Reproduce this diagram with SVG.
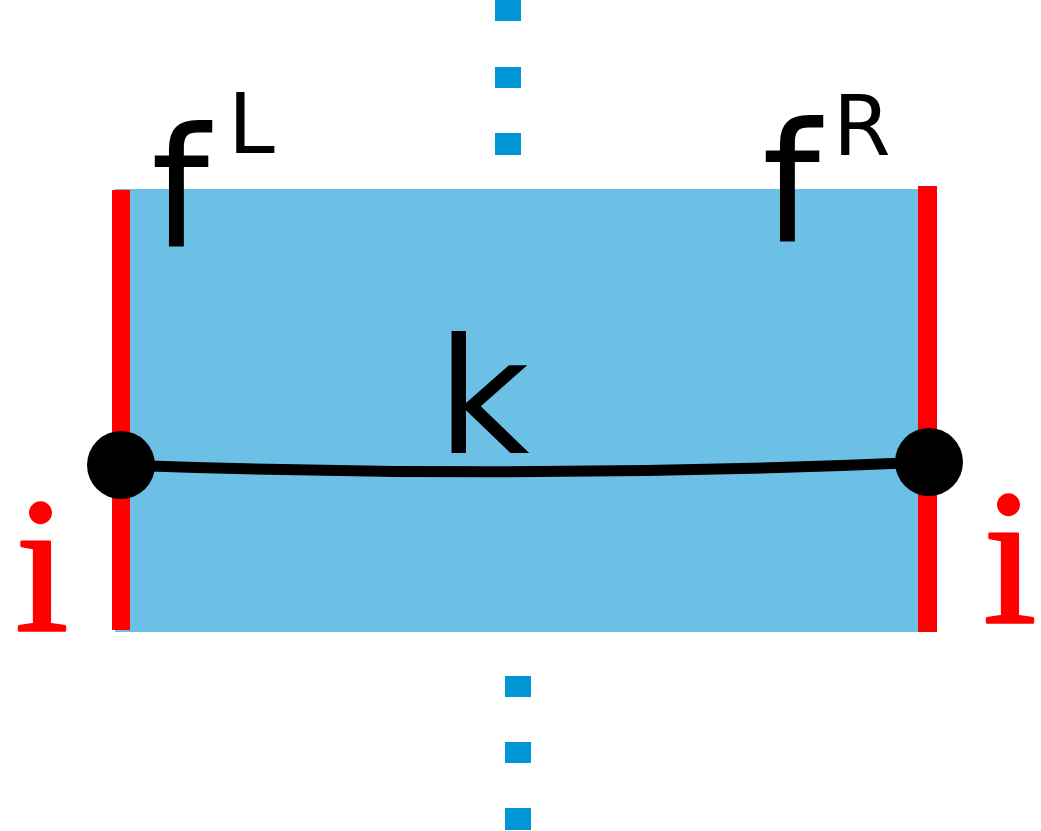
<svg xmlns="http://www.w3.org/2000/svg" width="1041" height="831" viewBox="0 0 1041 831">
  <style>
    .sym { font-family: "DejaVu Sans", sans-serif; fill: #000; }
    .idx { font-family: "Liberation Serif", "DejaVu Serif", serif; fill: #ff0000; stroke: #ff0000; stroke-width: 2.5px; stroke-linejoin: round; font-size: 193px; }
    .dash { fill: #0096d6; }
    .edge { fill: #ff0000; }
  </style>

  <!-- dotted axis above and below the strip -->
  <g id="axis-top">
    <rect class="dash" x="495" y="0" width="26" height="21"/>
    <rect class="dash" x="495" y="67" width="26" height="21"/>
    <rect class="dash" x="495" y="133" width="26" height="22"/>
  </g>
  <g id="axis-bottom">
    <rect class="dash" x="505" y="676" width="26" height="21"/>
    <rect class="dash" x="505" y="742" width="26" height="21"/>
    <rect class="dash" x="505" y="808" width="26" height="22"/>
  </g>

  <!-- strip -->
  <g id="strip">
    <rect x="115" y="189" width="805" height="443" fill="#6cc0e5"/>
    <rect class="edge" x="112" y="190" width="18" height="440"/>
    <rect class="edge" x="918" y="186" width="19" height="446"/>
  </g>

  <!-- labels -->
  <g id="label-fL">
    <text class="sym" x="151" y="246" font-size="165">f</text>
    <text class="sym" x="228" y="153" font-size="84">L</text>
  </g>
  <g id="label-fR">
    <text class="sym" x="762" y="241" font-size="165">f</text>
    <text class="sym" x="833" y="155" font-size="83">R</text>
  </g>
  <g id="label-k">
    <text class="sym" x="437" y="453" font-size="160">k</text>
  </g>

  <!-- connector between the two boundary points -->
  <g id="connectors">
    <path d="M121,465 Q525,480 929,462" fill="none" stroke="#000" stroke-width="11"/>
  </g>

  <g id="node-left">
    <circle cx="121" cy="465" r="34" fill="#000"/>
    <text class="idx" x="15" y="630">i</text>
  </g>
  <g id="node-right">
    <circle cx="929" cy="462" r="34" fill="#000"/>
    <text class="idx" x="983" y="622">i</text>
  </g>
</svg>
